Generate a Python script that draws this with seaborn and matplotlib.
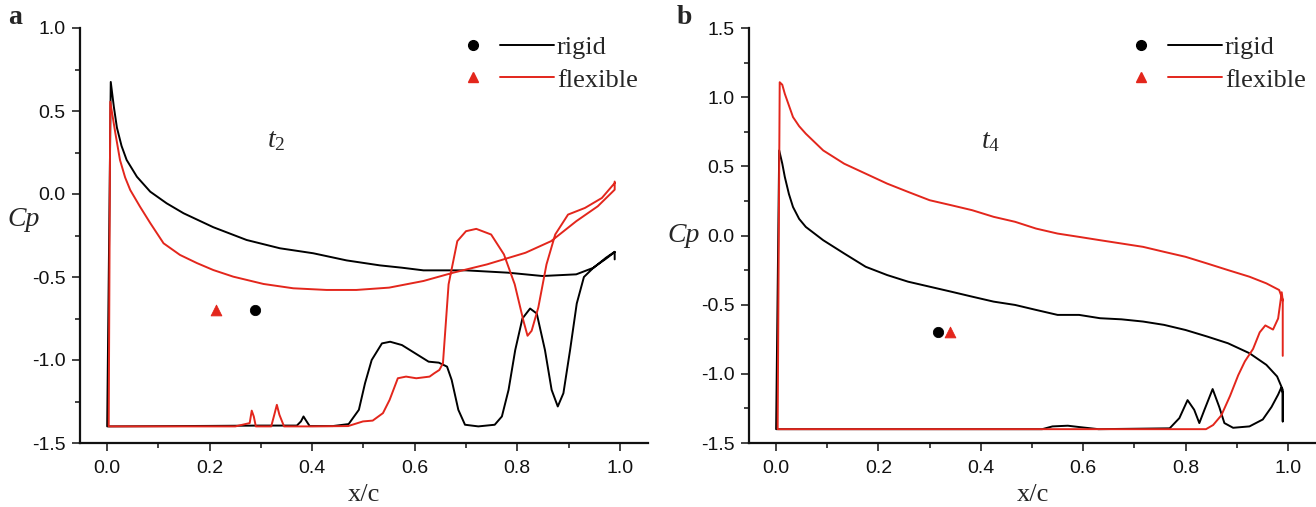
import numpy as np
import pandas as pd
import matplotlib
matplotlib.use("Agg")
import matplotlib.pyplot as plt
import seaborn as sns
from matplotlib.lines import Line2D
from matplotlib.legend_handler import HandlerTuple
from matplotlib.ticker import MultipleLocator, FormatStrFormatter

# ---------------- data ----------------
# Panel a (t2): each curve is one closed path, lower surface TE->LE, then upper surface LE->TE
a_rigid_x = [0.99, 0.973, 0.95, 0.93, 0.916, 0.903, 0.89, 0.879, 0.867, 0.854, 0.838, 0.825, 0.81, 0.796, 0.783,
             0.77, 0.756, 0.724, 0.698, 0.685, 0.672, 0.663, 0.647, 0.627, 0.601, 0.575, 0.552, 0.536, 0.516,
             0.503, 0.491, 0.471, 0.44, 0.395, 0.387, 0.383, 0.378, 0.37, 0.30, 0.20, 0.0,
             0.0, 0.007, 0.013, 0.019, 0.028, 0.038, 0.058, 0.084, 0.116, 0.149, 0.207, 0.272, 0.337, 0.402, 0.467, 0.532,
             0.575, 0.617, 0.70, 0.782, 0.849, 0.915, 0.949, 0.973, 0.99, 0.99]
a_rigid_cp = [-0.35, -0.39, -0.44, -0.50, -0.66, -0.94, -1.20, -1.28, -1.18, -0.94, -0.72, -0.69, -0.75, -0.94, -1.18,
              -1.34, -1.39, -1.40, -1.39, -1.30, -1.12, -1.04, -1.016, -1.01, -0.96, -0.91, -0.89, -0.90, -1.00,
              -1.14, -1.30, -1.386, -1.398, -1.398, -1.36, -1.34, -1.37, -1.395, -1.395, -1.397, -1.40,
              -1.40, 0.675, 0.526, 0.40, 0.29, 0.205, 0.104, 0.014, -0.056, -0.116, -0.20, -0.277, -0.327, -0.357, -0.40, -0.43,
              -0.444, -0.46, -0.46, -0.474, -0.494, -0.484, -0.444, -0.384, -0.348, -0.394]

a_flex_x = [0.99, 0.965, 0.932, 0.899, 0.874, 0.857, 0.841, 0.828, 0.82, 0.812, 0.795, 0.774, 0.749, 0.72, 0.70,
            0.683, 0.666, 0.655, 0.648, 0.638, 0.629, 0.603, 0.583, 0.567, 0.551, 0.538, 0.518, 0.499, 0.47,
            0.40, 0.345, 0.336, 0.331, 0.326, 0.32, 0.29, 0.286, 0.282, 0.278, 0.25, 0.003,
            0.003, 0.006, 0.016, 0.025, 0.035, 0.045, 0.064, 0.084, 0.11, 0.142, 0.175, 0.207, 0.246, 0.305, 0.363, 0.428,
            0.486, 0.55, 0.617, 0.675, 0.741, 0.816, 0.866, 0.915, 0.957, 0.99, 0.99]
a_flex_cp = [0.066, -0.024, -0.084, -0.124, -0.244, -0.424, -0.684, -0.824, -0.854, -0.764, -0.544, -0.364, -0.244, -0.21, -0.224,
             -0.284, -0.544, -1.02, -1.06, -1.08, -1.10, -1.11, -1.10, -1.11, -1.24, -1.32, -1.365, -1.37, -1.398,
             -1.40, -1.40, -1.33, -1.27, -1.33, -1.40, -1.40, -1.34, -1.305, -1.38, -1.40, -1.40,
             -1.40, 0.556, 0.366, 0.205, 0.10, 0.024, -0.076, -0.175, -0.297, -0.367, -0.416, -0.458, -0.498, -0.542, -0.568, -0.578,
             -0.578, -0.564, -0.524, -0.474, -0.424, -0.354, -0.284, -0.164, -0.074, 0.026, 0.075]

a_mark_x = [0.289, 0.212]
a_mark_cp = [-0.70, -0.70]

# Panel b (t4)
b_rigid_x = [0.99, 0.99, 0.987, 0.981, 0.968, 0.951, 0.925, 0.893, 0.876, 0.866, 0.853, 0.837, 0.827, 0.817, 0.804,
             0.788, 0.769, 0.63, 0.593, 0.57, 0.54, 0.52, 0.0,
             0.0, 0.006, 0.012, 0.017, 0.025, 0.033, 0.045, 0.058, 0.092, 0.133, 0.175, 0.217, 0.258, 0.30, 0.342, 0.383, 0.425,
             0.467, 0.508, 0.55, 0.592, 0.633, 0.675, 0.717, 0.758, 0.80, 0.842, 0.883, 0.925, 0.958, 0.979, 0.99, 0.99]
b_rigid_cp = [-1.344, -1.14, -1.10, -1.15, -1.24, -1.33, -1.38, -1.39, -1.356, -1.24, -1.11, -1.26, -1.356, -1.26, -1.19,
              -1.32, -1.394, -1.40, -1.385, -1.375, -1.38, -1.40, -1.40,
              -1.40, 0.615, 0.52, 0.423, 0.30, 0.206, 0.12, 0.062, -0.034, -0.13, -0.226, -0.286, -0.334, -0.37, -0.406, -0.442, -0.478,
              -0.502, -0.538, -0.574, -0.574, -0.598, -0.606, -0.622, -0.646, -0.683, -0.73, -0.779, -0.851, -0.935, -1.019, -1.115, -1.344]

b_flex_x = [0.99, 0.988, 0.981, 0.971, 0.956, 0.945, 0.932, 0.916, 0.903, 0.887, 0.87, 0.854, 0.84, 0.003,
            0.003, 0.007, 0.012, 0.017, 0.025, 0.033, 0.045, 0.058, 0.092, 0.133, 0.175, 0.217, 0.258, 0.30, 0.342, 0.383, 0.425,
            0.467, 0.508, 0.55, 0.592, 0.633, 0.675, 0.717, 0.758, 0.80, 0.842, 0.883, 0.925, 0.958, 0.983, 0.99, 0.99]
b_flex_cp = [-0.47, -0.41, -0.60, -0.68, -0.65, -0.70, -0.82, -0.91, -1.01, -1.16, -1.30, -1.37, -1.40, -1.40,
             -1.40, 1.108, 1.09, 1.024, 0.94, 0.856, 0.79, 0.736, 0.615, 0.519, 0.447, 0.375, 0.315, 0.255, 0.219, 0.183, 0.135,
             0.099, 0.05, 0.014, -0.01, -0.034, -0.058, -0.082, -0.118, -0.154, -0.202, -0.25, -0.298, -0.346, -0.394, -0.466, -0.87]

b_mark_x = [0.317, 0.339]
b_mark_cp = [-0.70, -0.70]

panel_letters = ["a", "b"]
time_labels = [r"$t_2$", r"$t_4$"]
time_label_x = [0.33, 0.42]
time_label_y = [0.325, 0.685]
ylims = [(-1.5, 1.0), (-1.5, 1.5)]
cp_label_x = [-0.10, -0.115]
cp_label_y = [0.538, 0.50]
series_names = ["rigid", "flexible"]

BLACK = "#000000"
RED = "#e3261c"

sns.set_theme(style="ticks")
plt.rcParams["font.family"] = ["Liberation Sans", "DejaVu Sans"]
plt.rcParams["mathtext.fontset"] = "custom"
plt.rcParams["mathtext.it"] = "Liberation Serif:italic"
plt.rcParams["mathtext.rm"] = "Liberation Serif"

fig = plt.figure(figsize=(13.16, 5.07), dpi=100)
ax_a = fig.add_axes([80 / 1316, 1 - 443 / 507, 568 / 1316, 415 / 507])
ax_b = fig.add_axes([749 / 1316, 1 - 443 / 507, 567 / 1316, 415 / 507])

panels = [
    (ax_a, a_rigid_x, a_rigid_cp, a_flex_x, a_flex_cp, a_mark_x, a_mark_cp),
    (ax_b, b_rigid_x, b_rigid_cp, b_flex_x, b_flex_cp, b_mark_x, b_mark_cp),
]

for i, (ax, rx, rc, fx, fc, mx, mc) in enumerate(panels):
    dr = pd.DataFrame({"x": rx, "cp": rc})
    df = pd.DataFrame({"x": fx, "cp": fc})
    sns.lineplot(data=dr, x="x", y="cp", sort=False, estimator=None, color=BLACK, lw=1.4, ax=ax)
    sns.lineplot(data=df, x="x", y="cp", sort=False, estimator=None, color=RED, lw=1.4, ax=ax)
    sns.scatterplot(x=[mx[0]], y=[mc[0]], marker="o", color=BLACK, s=55, edgecolor=BLACK, ax=ax, zorder=5)
    sns.scatterplot(x=[mx[1]], y=[mc[1]], marker="^", color=RED, s=60, edgecolor=RED, ax=ax, zorder=5)

    ax.set_xlim(-0.053, 1.055)
    ax.set_ylim(*ylims[i])
    ax.xaxis.set_major_locator(MultipleLocator(0.2))
    ax.xaxis.set_minor_locator(MultipleLocator(0.1))
    ax.yaxis.set_major_locator(MultipleLocator(0.5))
    ax.yaxis.set_minor_locator(MultipleLocator(0.25))
    ax.xaxis.set_major_formatter(FormatStrFormatter("%.1f"))
    ax.yaxis.set_major_formatter(FormatStrFormatter("%.1f"))
    ax.tick_params(which="both", direction="out", width=1.1, length=5.5, labelsize=14,
                   colors="#111111", pad=5)
    ax.tick_params(axis="x", which="major", pad=6.5)
    ax.tick_params(which="minor", length=3.8)
    for s in ["top", "right"]:
        ax.spines[s].set_visible(False)
    for s in ["left", "bottom"]:
        ax.spines[s].set_linewidth(1.6)
        ax.spines[s].set_color("#111111")
    ax.set_xlabel("x/c", family="Liberation Serif", fontsize=19, labelpad=5)
    ax.set_ylabel("Cp", family="Liberation Serif", style="italic", fontsize=20, rotation=0,
                  ha="center", va="center")
    ax.yaxis.set_label_coords(cp_label_x[i], cp_label_y[i])
    ax.text(time_label_x[i], time_label_y[i], time_labels[i], fontsize=20, ha="center", va="center")

    handles = [
        (Line2D([], [], ls="none", marker="o", color=BLACK, ms=7),
         Line2D([], [], color=BLACK, lw=1.4)),
        (Line2D([], [], ls="none", marker="^", color=RED, ms=7),
         Line2D([], [], color=RED, lw=1.4)),
    ]
    ax.legend(handles, series_names, handler_map={tuple: HandlerTuple(ndivide=None, pad=0.0)},
              loc="upper right", bbox_to_anchor=(1.024, 1.038), frameon=False, handlelength=4.1,
              handletextpad=0.1, labelspacing=0.33, prop={"family": "Liberation Serif", "size": 19})
    fig.text(ax.get_position().x0 - 0.0547, 1 - 17 / 507, panel_letters[i], family="Liberation Serif",
             fontweight="bold", fontsize=20, va="center")

fig.savefig("out.png", dpi=100)
